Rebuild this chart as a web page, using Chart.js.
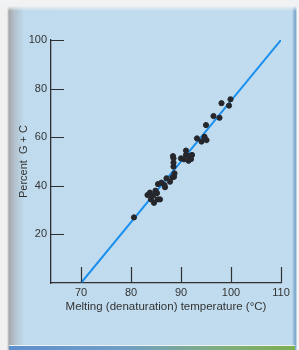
<!DOCTYPE html>
<html>
<head>
<meta charset="utf-8">
<script src="https://cdn.jsdelivr.net/npm/chart.js@4/dist/chart.umd.min.js"></script>
<style>
  html, body { margin: 0; padding: 0; }
  body { width: 299px; height: 350px; overflow: hidden; position: relative; background: #f4f4f3; }
  .page {
    position: absolute; left: 0; top: 0; width: 299px; height: 350px;
    background:
      linear-gradient(to bottom, rgba(240,242,243,1) 0, rgba(240,242,243,1) 6px, rgba(240,242,243,0) 11px),
      linear-gradient(to right, #f0f0f0 0, #f0f0f0 7px, #a6a7ab 9px, #b3c2ce 15px, #bfdbed 24px, #c0dcee 292px, #7aa6cc 295px, #8fb2d0 296px, #f4f4f4 297px);
  }
  .strip {
    position: absolute; left: 9px; top: 345px; width: 286px; height: 4px;
    background: linear-gradient(to right, #5d8fcf 0, #6f9fc6 40%, #7fae7d 75%, #79ae52 100%);
    border-top: 1px solid #eef3f0;
  }
  #chart { position: absolute; left: 0; top: 0; }
</style>
</head>
<body>
<div class="page"></div>
<div class="strip"></div>
<canvas id="chart" width="299" height="350"></canvas>
<script>
// melting temperature (°C) vs. percent G + C
const temps = [80.6, 83.3, 83.8, 84.0, 84.4, 84.6, 84.9, 85.3, 85.8, 85.2,
               85.4, 86.1, 86.8, 86.7, 87.1, 87.8, 88.3, 88.7, 88.6, 88.5,
               88.5, 88.5, 88.4, 90.0, 90.6, 91.0, 91.0, 91.5, 91.7, 92.2,
               92.0, 93.2, 94.1, 94.7, 95.1, 94.7, 95.0, 96.5, 97.7, 98.1,
               99.6, 99.9];
const gcPercent = [27.0, 36.2, 37.2, 34.4, 36.0, 33.0, 38.0, 34.4, 34.4, 37.0,
                   40.7, 41.3, 39.4, 40.3, 43.1, 41.7, 43.5, 45.1, 43.7, 47.9,
                   49.5, 51.3, 52.2, 51.3, 50.9, 52.7, 54.5, 50.3, 52.3, 52.7,
                   51.0, 59.5, 58.2, 59.5, 58.8, 60.2, 65.0, 68.7, 68.0, 74.0,
                   73.0, 75.6];
const fitTemps = [70, 110];
const fitGC = [0, 100];
const xTicks = [70, 80, 90, 100, 110];
const yTicks = [20, 40, 60, 80, 100];

const ink = '#2e3033';
const font = "'Liberation Sans', Arial, sans-serif";

// short tick marks pointing into the plot
const innerTicks = {
    id: 'innerTicks',
    afterDraw(c) {
        const ctx = c.ctx;
        const area = c.chartArea;
        const xs = c.scales.x, ys = c.scales.y;
        ctx.save();
        ctx.strokeStyle = ink;
        ctx.lineWidth = 1.2;
        ctx.beginPath();
        xTicks.forEach(v => {
            const px = Math.round(xs.getPixelForValue(v)) + 0.5;
            ctx.moveTo(px, area.bottom);
            ctx.lineTo(px, area.bottom - 16);
        });
        yTicks.forEach(v => {
            const py = Math.round(ys.getPixelForValue(v)) + 0.5;
            ctx.moveTo(area.left, py);
            ctx.lineTo(area.left + 13, py);
        });
        ctx.stroke();
        ctx.restore();
    }
};

new Chart(document.getElementById('chart').getContext('2d'), {
    type: 'scatter',
    data: {
        datasets: [{
            label: 'DNA samples',
            data: temps.map((t, i) => ({x: t, y: gcPercent[i]})),
            backgroundColor: '#26272c',
            borderColor: '#26272c',
            pointRadius: 2.6,
            order: 0
        }, {
            type: 'line',
            label: 'fit',
            data: fitTemps.map((t, i) => ({x: t, y: fitGC[i]})),
            borderColor: '#1a8ff0',
            borderWidth: 2,
            pointRadius: 0,
            fill: false,
            order: 1
        }]
    },
    options: {
        responsive: false,
        animation: false,
        layout: {padding: {left: 13, top: 40, right: 18, bottom: 33}},
        plugins: {legend: {display: false}, tooltip: {enabled: false}},
        scales: {
            x: {
                type: 'linear',
                min: 64,
                max: 110,
                afterBuildTicks: s => { s.ticks = xTicks.map(v => ({value: v})); },
                afterFit: s => { s.height = 34; },
                grid: {drawOnChartArea: false, drawTicks: false},
                border: {display: true, color: ink, width: 1.3},
                ticks: {color: '#333', padding: 3, font: {family: font, size: 11}},
                title: {
                    display: true,
                    text: 'Melting (denaturation) temperature (°C)',
                    color: '#333',
                    font: {family: font, size: 11.5},
                    padding: {top: 2, bottom: 3}
                }
            },
            y: {
                min: 0,
                max: 100,
                afterBuildTicks: s => { s.ticks = yTicks.map(v => ({value: v})); },
                afterFit: s => { s.width = 38; },
                grid: {drawOnChartArea: false, drawTicks: false},
                border: {display: true, color: ink, width: 1.3},
                ticks: {color: '#333', padding: 4, font: {family: font, size: 11}},
                title: {
                    display: true,
                    text: 'Percent  G + C',
                    color: '#333',
                    font: {family: font, size: 11},
                    padding: {top: 4, bottom: 2}
                }
            }
        }
    },
    plugins: [innerTicks]
});
</script>
</body>
</html>
